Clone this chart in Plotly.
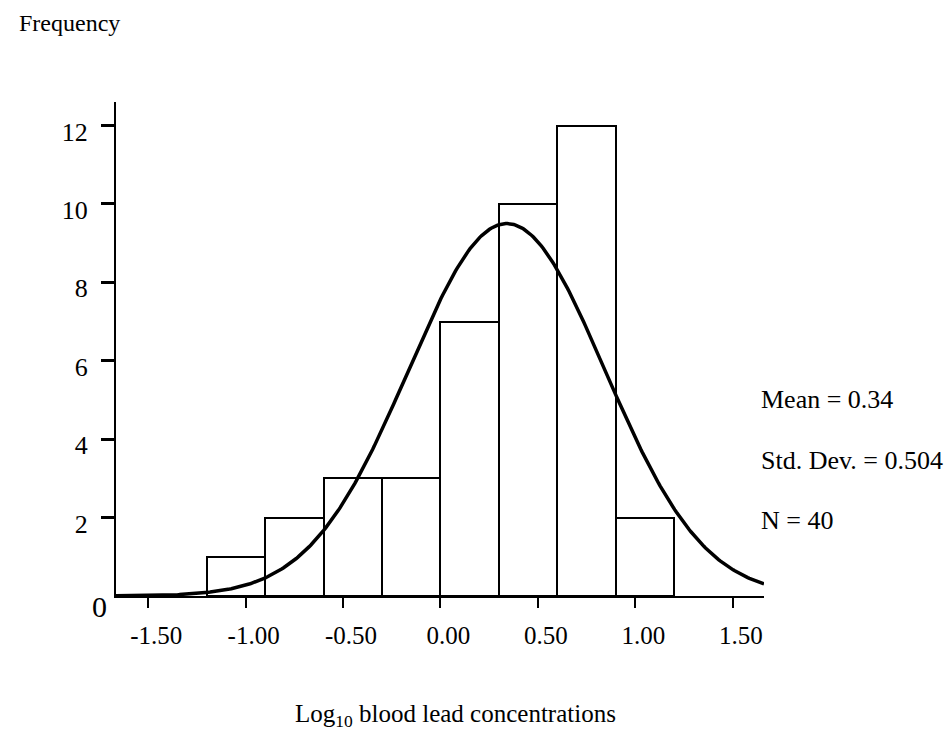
import numpy as np
import plotly.graph_objects as go

# Data
bin_centers = [-1.05, -0.75, -0.45, -0.15, 0.15, 0.45, 0.75, 1.05]
counts = [1, 2, 3, 3, 7, 10, 12, 2]
bin_width = 0.3
mean_val = 0.34
sd_val = 0.504
n_val = 40
x_ticks = [-1.5, -1.0, -0.5, 0.0, 0.5, 1.0, 1.5]
x_ticktext = ["-1.50", "-1.00", "-0.50", "0.00", "0.50", "1.00", "1.50"]
y_ticks = [2, 4, 6, 8, 10, 12]

FONT = "Liberation Serif, Times New Roman, serif"
W, H = 952, 731
L, R, T, B = 116, 188, 102, 135
PW, PH = W - L - R, H - T - B
XR = [-1.665, 1.66]
YR = [0, 12.6]


def px(x):
    return (x - L) / PW


def py(y):
    return (H - B - y) / PH


xc = np.linspace(XR[0], XR[1], 400)
yc = n_val * bin_width / (sd_val * np.sqrt(2 * np.pi)) * np.exp(-0.5 * ((xc - mean_val) / sd_val) ** 2)

fig = go.Figure()
fig.add_trace(go.Bar(x=bin_centers, y=counts, width=bin_width,
                     marker=dict(color="white", line=dict(color="black", width=2)),
                     showlegend=False, hoverinfo="skip"))
fig.add_trace(go.Scatter(x=xc, y=yc, mode="lines", line=dict(color="black", width=3.5),
                         showlegend=False, hoverinfo="skip"))

annots = [
    dict(text="Frequency", x=px(17), y=py(23), xanchor="left", yanchor="middle", size=24),
    dict(text="Mean = 0.34", x=px(759), y=py(399), xanchor="left", yanchor="middle", size=26),
    dict(text="Std. Dev. = 0.504", x=px(759), y=py(460), xanchor="left", yanchor="middle", size=26),
    dict(text="N = 40", x=px(759), y=py(520), xanchor="left", yanchor="middle", size=26),
    dict(text="Log<sub>10</sub> blood lead concentrations", x=px(293), y=py(715), xanchor="left", yanchor="middle", size=25),
    dict(text="0", x=px(99), y=py(606), xanchor="center", yanchor="middle", size=30),
]
for a in annots:
    fig.add_annotation(text=a["text"], x=a["x"], y=a["y"], xref="paper", yref="paper",
                       xanchor=a["xanchor"], yanchor=a["yanchor"], showarrow=False,
                       font=dict(family=FONT, size=a["size"], color="black"))

fig.update_layout(
    width=W, height=H,
    margin=dict(l=L, r=R, t=T, b=B, pad=0),
    paper_bgcolor="white", plot_bgcolor="white",
    bargap=0,
    font=dict(family=FONT, color="black"),
    xaxis=dict(range=XR, showgrid=False, zeroline=False, showline=True, linecolor="black", linewidth=2,
               ticks="outside", ticklen=10, tickwidth=2, tickcolor="black",
               tickvals=x_ticks, ticktext=x_ticktext, tickfont=dict(size=25, family=FONT),
               ticklabelshift=8, ticklabelstandoff=6),
    yaxis=dict(range=YR, showgrid=False, zeroline=False, showline=True, linecolor="black", linewidth=2,
               ticks="outside", ticklen=13, tickwidth=2.5, tickcolor="black",
               tickvals=y_ticks, tickfont=dict(size=26, family=FONT), ticklabelstandoff=8,
               ticklabelshift=6),
)

fig.write_html("out.html")
